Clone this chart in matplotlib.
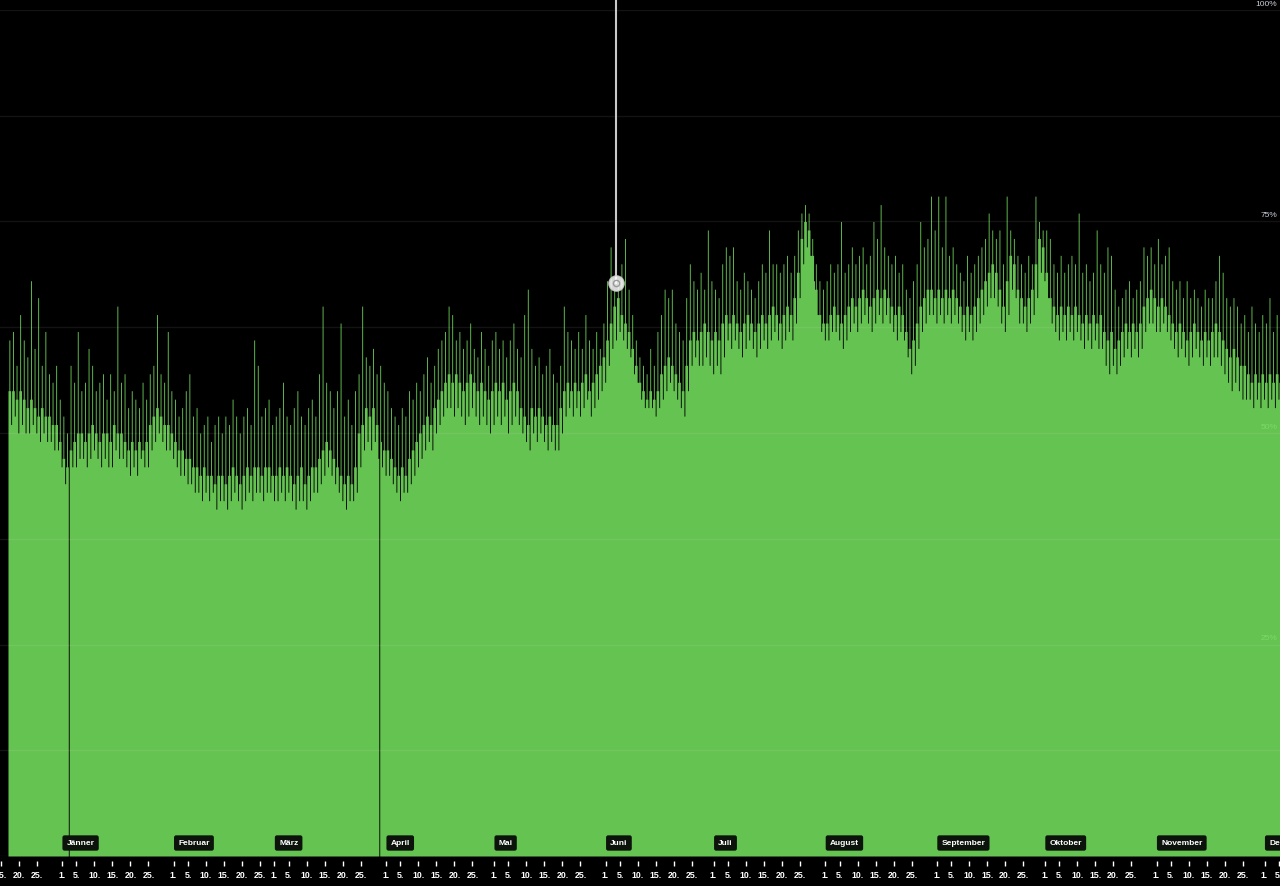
import numpy as np
import pandas as pd
import matplotlib
matplotlib.use("Agg")
import matplotlib.pyplot as plt
import matplotlib.dates as mdates
import matplotlib.transforms as mtransforms
from matplotlib.ticker import FuncFormatter

# Tageswerte in Prozent, ab 17.12.2024 (basis = Niveau, spitze/senke = Ausreisser)
basis = [
    55, 55, 54, 55, 54, 53, 54, 53, 52, 53, 52, 52, 51, 51, 49,  # Dez
    47, 46, 48, 49, 50, 50, 49, 50, 51, 50, 49, 50, 50, 49, 51, 50, 50, 49, 48, 49, 48, 49, 48, 49, 51, 52, 53, 52, 51, 51, 50,  # Jan
    49, 48, 48, 47, 47, 46, 46, 45, 46, 45, 45, 44, 45, 45, 44, 45, 46, 45, 44, 45, 46, 45, 46, 46, 45, 46, 46, 45,  # Feb
    45, 46, 45, 46, 45, 44, 45, 46, 44, 45, 46, 46, 47, 48, 49, 48, 47, 46, 45, 44, 45, 44, 46, 50, 51, 53, 52, 53, 51, 49, 48,  # Mar
    48, 47, 46, 45, 46, 45, 47, 48, 49, 50, 51, 52, 51, 53, 54, 55, 56, 57, 56, 57, 56, 55, 56, 57, 56, 55, 56, 55, 54, 55,  # Apr
    56, 55, 56, 54, 55, 56, 55, 53, 52, 51, 53, 52, 53, 52, 51, 52, 51, 51, 53, 55, 56, 55, 56, 55, 56, 57, 55, 56, 57, 58, 59,  # Mai
    61, 63, 65, 66, 64, 63, 62, 60, 58, 56, 55, 54, 55, 54, 55, 57, 58, 59, 58, 57, 56, 55, 58, 61, 62, 61, 62, 63, 62, 61,  # Jun
    62, 61, 63, 64, 63, 64, 63, 62, 63, 64, 63, 62, 63, 64, 63, 64, 65, 64, 63, 64, 65, 64, 66, 69, 73, 75, 74, 71, 67, 64, 63,  # Jul
    63, 64, 65, 64, 63, 64, 65, 66, 65, 66, 67, 66, 65, 66, 67, 66, 67, 66, 65, 64, 65, 64, 62, 60, 61, 63, 65, 66, 67, 67, 66,  # Aug
    67, 66, 67, 66, 67, 66, 65, 64, 65, 64, 65, 66, 67, 68, 69, 70, 69, 67, 65, 68, 71, 70, 67, 66, 65, 66, 67, 70, 73, 72,  # Sep
    69, 66, 65, 64, 65, 64, 65, 64, 65, 64, 63, 64, 63, 64, 63, 64, 62, 61, 62, 60, 61, 62, 63, 62, 63, 62, 63, 65, 66, 67, 66,  # Okt
    65, 66, 65, 64, 63, 62, 63, 62, 61, 62, 63, 62, 61, 62, 61, 62, 63, 62, 61, 60, 59, 60, 59, 58, 58, 57, 56, 57, 56, 57,  # Nov
    56, 57, 56, 57, 56,  # Dez
]
spitze = [
    61, 62, 58, 64, 61, 59, 68, 60, 66, 58, 62, 57, 56, 58, 54,
    52, 50, 58, 56, 62, 55, 56, 60, 58, 55, 56, 57, 54, 57, 55, 65, 56, 57, 53, 55, 54, 53, 56, 54, 57, 58, 64, 57, 56, 62, 55,
    54, 52, 53, 55, 57, 52, 53, 50, 51, 52, 49, 51, 52, 50, 52, 51, 54, 52, 50, 52, 53, 51, 61, 58, 52, 53, 54, 51,
    52, 53, 56, 52, 51, 53, 55, 52, 51, 53, 54, 52, 57, 65, 56, 55, 53, 55, 63, 52, 54, 51, 55, 57, 65, 59, 58, 60, 57, 58, 56,
    55, 53, 52, 51, 53, 52, 55, 54, 56, 55, 57, 59, 56, 58, 60, 61, 62, 65, 64, 61, 62, 60, 61, 63, 60, 59, 62, 60, 58, 61,
    62, 60, 61, 59, 61, 63, 60, 59, 64, 67, 60, 58, 59, 57, 58, 60, 57, 56, 58, 65, 62, 61, 60, 62, 60, 64, 61, 60, 62, 60, 63,
    68, 72, 67, 68, 70, 73, 67, 64, 61, 59, 58, 57, 60, 58, 62, 64, 67, 66, 67, 63, 62, 61, 66, 70, 68, 67, 69, 67, 74, 68,
    67, 66, 70, 72, 71, 72, 68, 67, 69, 68, 67, 66, 68, 70, 69, 74, 70, 70, 69, 70, 71, 69, 71, 74, 76, 77, 76, 73, 70, 68, 67,
    68, 70, 69, 70, 75, 69, 70, 72, 70, 71, 72, 70, 71, 75, 73, 77, 72, 71, 70, 71, 69, 70, 67, 66, 68, 70, 75, 72, 73, 78, 74,
    78, 72, 78, 71, 72, 70, 69, 68, 71, 69, 70, 71, 72, 73, 76, 74, 73, 74, 70, 78, 74, 73, 71, 70, 69, 71, 70, 78, 75, 74,
    74, 73, 70, 69, 71, 69, 70, 71, 70, 76, 69, 70, 68, 69, 74, 70, 69, 72, 71, 67, 65, 66, 67, 68, 66, 67, 68, 72, 71, 72, 70,
    73, 70, 71, 72, 68, 67, 68, 66, 68, 66, 67, 66, 65, 67, 66, 66, 68, 71, 69, 66, 65, 66, 65, 63, 64, 62, 65, 63, 62, 64,
    63, 66, 62, 64, 63,
]
senke = [
    51, 52, 50, 51, 50, 50, 51, 50, 49, 50, 49, 49, 48, 48, 46,
    44, 45, 46, 46, 47, 47, 46, 47, 48, 47, 46, 47, 46, 46, 48, 47, 47, 46, 45, 46, 45, 47, 46, 46, 48, 49, 50, 49, 48, 48, 47,
    46, 45, 45, 44, 44, 43, 43, 42, 43, 42, 43, 41, 42, 42, 41, 42, 43, 42, 41, 42, 43, 42, 43, 43, 42, 43, 43, 42,
    42, 43, 42, 43, 42, 41, 42, 42, 41, 42, 43, 43, 44, 45, 46, 45, 44, 43, 42, 41, 42, 42, 43, 46, 48, 49, 48, 49, 47, 46, 45,
    45, 44, 43, 42, 43, 43, 44, 45, 46, 47, 48, 49, 48, 50, 51, 52, 53, 53, 52, 53, 52, 51, 52, 53, 52, 51, 52, 51, 50, 51,
    52, 51, 52, 50, 51, 52, 51, 50, 49, 48, 50, 49, 50, 49, 48, 49, 48, 48, 50, 52, 53, 52, 53, 52, 53, 54, 52, 53, 54, 55, 56,
    58, 60, 61, 62, 61, 60, 59, 57, 56, 54, 53, 53, 53, 52, 53, 54, 55, 56, 55, 54, 53, 52, 55, 58, 59, 58, 58, 59, 58, 57,
    58, 57, 59, 61, 60, 61, 60, 59, 60, 61, 60, 59, 60, 61, 60, 61, 62, 61, 60, 61, 62, 61, 63, 66, 70, 72, 71, 68, 64, 62, 61,
    61, 62, 62, 61, 60, 61, 62, 63, 62, 63, 64, 63, 62, 63, 64, 63, 64, 63, 62, 61, 62, 61, 59, 57, 58, 60, 62, 63, 64, 64, 63,
    64, 63, 64, 63, 64, 63, 62, 61, 62, 61, 62, 63, 64, 65, 66, 66, 65, 63, 62, 64, 67, 66, 63, 63, 62, 63, 64, 66, 69, 68,
    66, 63, 62, 61, 62, 61, 62, 61, 62, 61, 60, 61, 60, 61, 60, 60, 58, 57, 58, 57, 58, 59, 60, 59, 60, 59, 60, 62, 63, 63, 62,
    62, 63, 62, 61, 60, 59, 60, 59, 58, 59, 60, 59, 58, 59, 58, 59, 59, 58, 57, 56, 55, 56, 55, 54, 54, 54, 53, 54, 53, 54,
    53, 54, 53, 54, 53,
]
start = "2024-12-17"
nullstellen = ["2025-01-02 18:00", "2025-03-30 02:00"]

monate = ["Jänner", "Februar", "März", "April", "Mai", "Juni", "Juli",
          "August", "September", "Oktober", "November", "Dezember"]
tick_tage = [1, 5, 10, 15, 20, 25]
y_labels = [25, 50, 75, 100]

hover_zeit = "2025-06-03 21:00"
hover_wert = 67.7

GRUEN = "#71da5b"

# Viertel-Tages-Stufen: Niveau, Spitze, Niveau, Senke
tage = pd.date_range(start, periods=len(basis), freq="D")
zeiten, werte = [], []
for tag, b, s, t in zip(tage, basis, spitze, senke):
    for stunde, w in ((0, b), (6, s), (12, b), (18, t)):
        zeiten.append(tag + pd.Timedelta(hours=stunde))
        werte.append(w)
zeiten.append(tage[-1] + pd.Timedelta(days=1))
werte.append(basis[-1])
zeiten = pd.DatetimeIndex(zeiten)
werte = np.array(werte, dtype=float)
for n in nullstellen:
    idx = zeiten.searchsorted(pd.Timestamp(n), side="right") - 1
    werte[idx] = 0

fig = plt.figure(figsize=(12.8, 8.87), dpi=100, facecolor="black")
ax = fig.add_axes([0, 30 / 887, 1, 846 / 887])
ax.set_facecolor("black")
for sp in ax.spines.values():
    sp.set_visible(False)
ax.spines["bottom"].set_position(("outward", 3.5))

ax.fill_between(zeiten.to_numpy(), werte, step="post", color=GRUEN,
                alpha=0.9, lw=0, zorder=2)

jan1 = mdates.date2num(pd.Timestamp("2025-01-01"))
ax.set_xlim(jan1 - 17.22, jan1 + 338.3)
ax.set_ylim(0, 100)

# gridlines
ax.set_yticks(np.arange(0, 101, 12.5))
ax.tick_params(axis="y", left=False, labelleft=False)
ax.grid(axis="y", color="white", alpha=0.08, lw=1)
ax.set_axisbelow(False)

ytrans = mtransforms.blended_transform_factory(ax.transAxes, ax.transData)
for v in y_labels:
    ax.text(0.998, v + 0.4, f"{v}%", transform=ytrans, ha="right", va="bottom",
            fontsize=6, color="#c8ced8", family="Liberation Sans",
            zorder=1.5, clip_on=False)

# x axis: day ticks
ax.xaxis.set_major_locator(mdates.DayLocator(bymonthday=tick_tage))
ax.xaxis.set_major_formatter(FuncFormatter(lambda v, p: f"{mdates.num2date(v).day}."))
ax.tick_params(axis="x", colors="white", length=3.5, width=1, pad=3,
               labelsize=6.3, direction="out")
for lab in ax.get_xticklabels():
    lab.set_fontweight("bold")
    lab.set_family("Liberation Sans")

# month labels
mtrans = mtransforms.blended_transform_factory(ax.transData, ax.transAxes)
for i, name in enumerate(monate):
    datum = mdates.date2num(pd.Timestamp(2025, i + 1, 1))
    ax.annotate(name, xy=(datum, 13 / 846), xycoords=mtrans,
                xytext=(3.3, 0), textcoords="offset points",
                ha="left", va="center", fontsize=6, fontweight="bold",
                family="Liberation Sans", color="white", zorder=5,
                bbox=dict(boxstyle="round,pad=0.5,rounding_size=0.25",
                          fc="#0b130b", ec="none"))

# hover marker
hx = mdates.date2num(pd.Timestamp(hover_zeit))
ax.plot([hx, hx], [hover_wert, 101.5], color="#c8c8c8", lw=1.5,
        zorder=6, clip_on=False)
ax.plot([hx], [hover_wert], marker="o", ms=11, mfc="white", mec="#d0d0d0",
        alpha=0.85, zorder=7)
ax.plot([hx], [hover_wert], marker="o", ms=4.5, mfc="none", mec="#9a9a9a",
        mew=1, zorder=8)

fig.savefig("out.png", dpi=100, facecolor="black")
